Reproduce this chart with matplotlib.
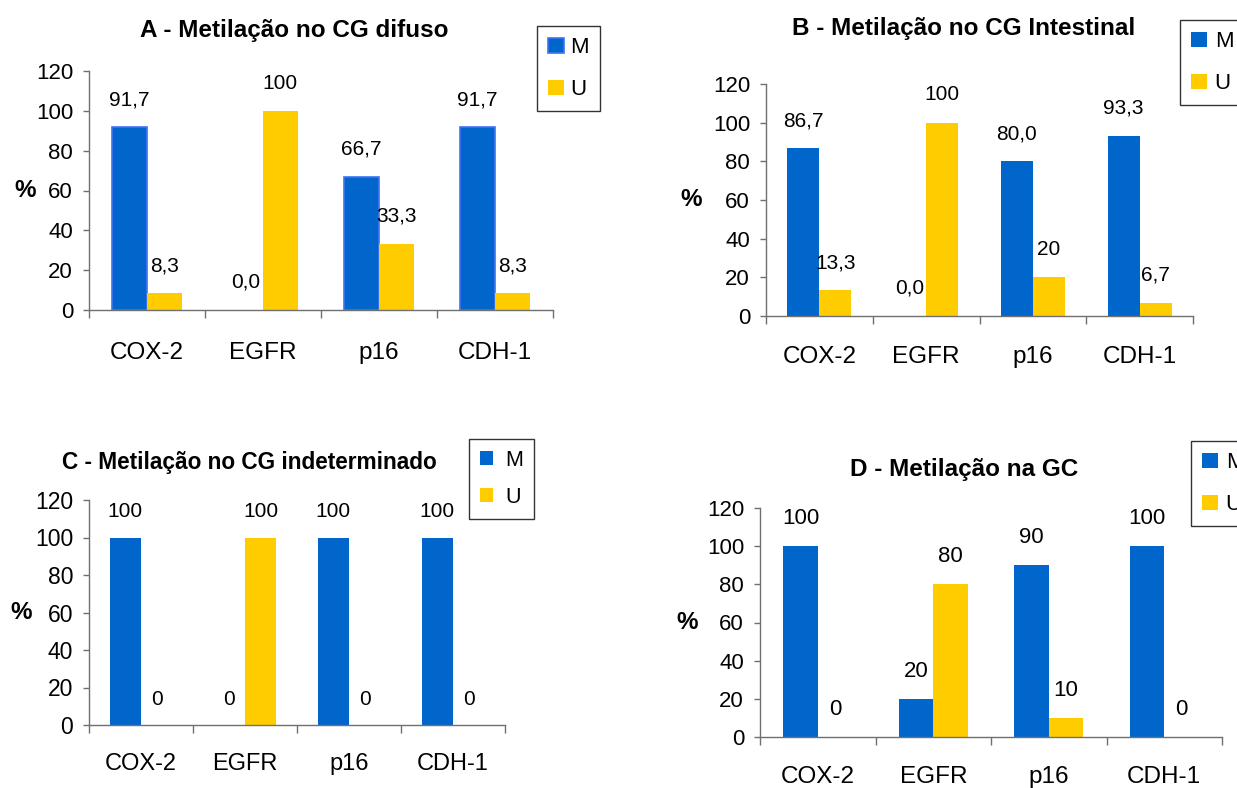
import matplotlib
matplotlib.use("Agg")
import matplotlib.pyplot as plt
from matplotlib.patches import Patch
import numpy as np

plt.rcParams['font.family'] = ['Liberation Sans', 'DejaVu Sans']

genes = ['COX-2', 'EGFR', 'p16', 'CDH-1']

a_m = [91.7, 0.0, 66.7, 91.7]
a_u = [8.3, 100, 33.3, 8.3]
a_m_lbl = ['91,7', '0,0', '66,7', '91,7']
a_u_lbl = ['8,3', '100', '33,3', '8,3']

b_m = [86.7, 0.0, 80.0, 93.3]
b_u = [13.3, 100, 20, 6.7]
b_m_lbl = ['86,7', '0,0', '80,0', '93,3']
b_u_lbl = ['13,3', '100', '20', '6,7']

c_m = [100, 0, 100, 100]
c_u = [0, 100, 0, 0]
c_m_lbl = ['100', '0', '100', '100']
c_u_lbl = ['0', '100', '0', '0']

d_m = [100, 20, 90, 100]
d_u = [0, 80, 10, 0]
d_m_lbl = ['100', '20', '90', '100']
d_u_lbl = ['0', '80', '10', '0']

titles = ['A - Metilação no CG difuso', 'B - Metilação no CG Intestinal',
          'C - Metilação no CG indeterminado', 'D - Metilação na GC']

BLUE = '#0066CC'
YELLOW = '#FFCC00'
AXC = '#707070'

W, H = 1237, 788
fig = plt.figure(figsize=(W / 100, H / 100), dpi=100)


def px_axes(l, r, b, t):
    return fig.add_axes([l / W, 1 - b / H, (r - l) / W, (b - t) / H])


panels = [
    dict(box=(89, 553, 310, 71), m=a_m, u=a_u, ml=a_m_lbl, ul=a_u_lbl, title=titles[0],
         tpos=(294, 31), tfs=17.5, fs_tick=16, fs_x=17.5, fs_lbl=15, medge='#3f73f2',
         leg=(537, 26), lfs=16, hl=0.7, htp=0.3, ls=0.95, xpad=23, lpad=7.5, off=20),
    dict(box=(766, 1193, 316, 84), m=b_m, u=b_u, ml=b_m_lbl, ul=b_u_lbl, title=titles[1],
         tpos=(964, 28), tfs=17.5, fs_tick=16, fs_x=17.5, fs_lbl=15, medge=None,
         leg=(1180, 20), lfs=16, hl=0.7, htp=0.36, ls=0.95, xpad=21.5, lpad=15.5, off=20),
    dict(box=(89, 505, 725, 500), m=c_m, u=c_u, ml=c_m_lbl, ul=c_u_lbl, title=titles[2],
         tpos=(249, 463), tfs=16.3, fs_tick=16.5, fs_x=17, fs_lbl=15, medge=None,
         leg=(469, 439), lfs=15.5, hl=0.62, htp=0.55, ls=0.75, xpad=20.5, lpad=10, off=18.5),
    dict(box=(760, 1222, 737, 508), m=d_m, u=d_u, ml=d_m_lbl, ul=d_u_lbl, title=titles[3],
         tpos=(964, 470), tfs=17.5, fs_tick=16, fs_x=17.5, fs_lbl=16, medge=None,
         leg=(1191, 441), lfs=16, hl=0.7, htp=0.36, ls=0.95, xpad=21, lpad=14, off=20),
]

x = np.arange(len(genes))
bw = 0.3

for p in panels:
    l, r, b, t = p['box']
    ax = px_axes(l, r, b, t)
    if p['medge']:
        lws = [1.2 if v > 0 else 0 for v in p['m']]
        ax.bar(x - bw / 2, p['m'], bw, color=BLUE, edgecolor=p['medge'], linewidth=lws, zorder=2)
    else:
        ax.bar(x - bw / 2, p['m'], bw, color=BLUE, linewidth=0, zorder=2)
    ax.bar(x + bw / 2, p['u'], bw, color=YELLOW, linewidth=0, zorder=2)
    for xi, v, s in zip(x, p['m'], p['ml']):
        ax.annotate(s, (xi - bw / 2, v), xytext=(0, p['off']), textcoords='offset points',
                    ha='center', va='center', fontsize=p['fs_lbl'])
    for xi, v, s in zip(x, p['u'], p['ul']):
        ax.annotate(s, (xi + bw / 2, v), xytext=(0, p['off']), textcoords='offset points',
                    ha='center', va='center', fontsize=p['fs_lbl'])
    ax.set_xlim(-0.5, len(genes) - 0.5)
    ax.set_ylim(0, 120)
    ax.set_yticks(np.arange(0, 121, 20))
    ax.tick_params(axis='y', direction='out', length=4.5, width=1, color=AXC,
                   labelsize=p['fs_tick'], pad=7)
    ax.set_xticks(np.arange(-0.5, len(genes), 1.0))
    ax.set_xticklabels([])
    ax.tick_params(axis='x', which='major', direction='out', length=6, width=1, color=AXC)
    ax.set_xticks(x, minor=True)
    ax.set_xticklabels(genes, minor=True)
    ax.tick_params(axis='x', which='minor', length=0, labelsize=p['fs_x'], pad=p['xpad'])
    for s in ['top', 'right']:
        ax.spines[s].set_visible(False)
    for s in ['left', 'bottom']:
        ax.spines[s].set_color(AXC)
        ax.spines[s].set_linewidth(1)
    ax.set_ylabel('%', rotation=0, fontweight='bold', fontsize=17.5, labelpad=p['lpad'],
                  va='center')
    tx, ty = p['tpos']
    fig.text(tx / W, 1 - ty / H, p['title'], ha='center', va='center', fontsize=p['tfs'],
             fontweight='bold')
    ll, lt = p['leg']
    handles = [Patch(facecolor=BLUE, edgecolor=p['medge'] if p['medge'] else BLUE,
                     linewidth=1.2 if p['medge'] else 0, label='M'),
               Patch(facecolor=YELLOW, edgecolor=YELLOW, linewidth=0, label='U')]
    leg = fig.legend(handles=handles, loc='upper left', bbox_to_anchor=(ll / W, 1 - lt / H),
                     frameon=True, fancybox=False, edgecolor='black', fontsize=p['lfs'],
                     handlelength=p['hl'], handleheight=p['hl'], handletextpad=p['htp'],
                     labelspacing=p['ls'], borderpad=0.5, borderaxespad=0)
    leg.get_frame().set_linewidth(1)

fig.savefig('out.png', dpi=100)
